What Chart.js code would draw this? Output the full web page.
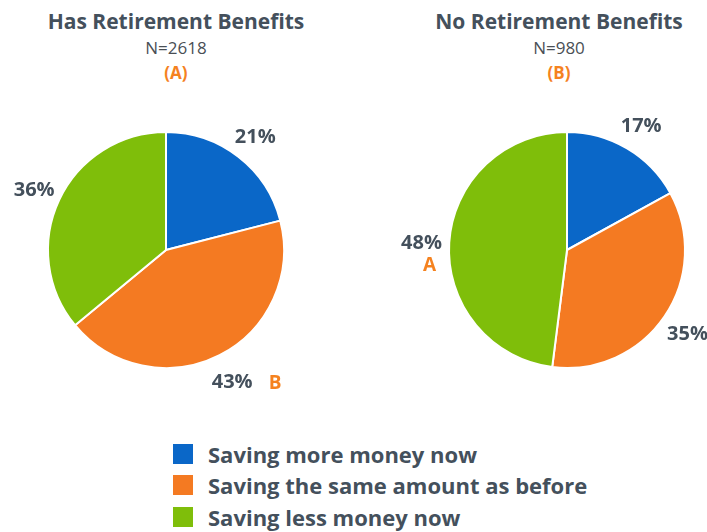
<!DOCTYPE html>
<html lang="en">
<head>
    <meta charset="UTF-8">
    <title>Retirement Benefits and Saving</title>
    <script src="https://cdnjs.cloudflare.com/ajax/libs/Chart.js/4.4.1/chart.umd.min.js"></script>
    <style>
        body { margin: 0; background: #fff; font-family: "Open Sans", sans-serif; color: #44505c; }
        #page { position: relative; width: 707px; height: 532px; overflow: hidden; }
        .head { position: absolute; top: 8px; width: 300px; text-align: center; }
        .head .t { font-weight: bold; font-size: 21px; line-height: 26px; }
        .head .n { font-size: 17px; line-height: 28px; color: #4a4f55; }
        .head .g { font-weight: bold; font-size: 17px; line-height: 22px; color: #f5821f; }
        .box { position: absolute; top: 71px; width: 353px; height: 358px; }
        #legend { position: absolute; left: 173px; top: 438px; }
        #legend div { display: flex; align-items: center; height: 31.5px; font-weight: bold; font-size: 22px; }
        #legend span.sw { display: inline-block; width: 20px; height: 20px; margin-right: 15px; }
    </style>
</head>
<body>
<div id="page">
    <div class="head" style="left:26px">
        <div class="t">Has Retirement Benefits</div>
        <div class="n">N=2618</div>
        <div class="g">(A)</div>
    </div>
    <div class="head" style="left:409px">
        <div class="t">No Retirement Benefits</div>
        <div class="n">N=980</div>
        <div class="g">(B)</div>
    </div>
    <div class="box" style="left:0"><canvas id="pieA"></canvas></div>
    <div class="box" style="left:354px"><canvas id="pieB"></canvas></div>
    <div id="legend"></div>
</div>

<script>
    const categories = ['Saving more money now', 'Saving the same amount as before', 'Saving less money now'];
    const colors = ['#0a67c8', '#f47a22', '#7fbe0a'];
    const hasBenefits = [21, 43, 36];
    const noBenefits = [17, 35, 48];
    // significance letters shown next to a slice label
    const hasBenefitsSig = ['', 'B', ''];
    const noBenefitsSig = ['', '', 'A'];

    const labelPlugin = {
        id: 'sliceLabels',
        afterDatasetsDraw(chart) {
            const ctx = chart.ctx;
            const meta = chart.getDatasetMeta(0);
            const sig = chart.options.plugins.sliceLabels.sig;
            const vals = chart.data.datasets[0].data;
            meta.data.forEach((arc, i) => {
                const mid = (arc.startAngle + arc.endAngle) / 2;
                const r = arc.outerRadius * 1.235;
                const x = arc.x + Math.cos(mid) * r;
                const y = arc.y + Math.sin(mid) * r + 2;
                ctx.save();
                ctx.font = 'bold 20px "Open Sans", sans-serif';
                ctx.fillStyle = '#44505c';
                ctx.textAlign = 'center';
                ctx.textBaseline = 'middle';
                ctx.fillText(vals[i] + '%', x, y);
                if (sig[i]) {
                    ctx.fillStyle = '#f5821f';
                    ctx.font = 'bold 19px "Open Sans", sans-serif';
                    if (Math.cos(mid) < -0.8) {
                        ctx.fillText(sig[i], x + 8, y + 23);
                    } else {
                        ctx.fillText(sig[i], x + 43, y + 2);
                    }
                }
                ctx.restore();
            });
        }
    };

    function makePie(id, values, sig, padding) {
        new Chart(document.getElementById(id), {
            type: 'pie',
            data: {
                labels: categories,
                datasets: [{
                    data: values,
                    backgroundColor: colors,
                    borderColor: '#ffffff',
                    borderWidth: 2
                }]
            },
            options: {
                responsive: true,
                maintainAspectRatio: false,
                animation: false,
                events: [],
                layout: { padding: padding },
                plugins: {
                    legend: { display: false },
                    tooltip: { enabled: false },
                    sliceLabels: { sig: sig }
                }
            },
            plugins: [labelPlugin]
        });
    }

    makePie('pieA', hasBenefits, hasBenefitsSig, { left: 47, right: 68, top: 60, bottom: 60 });
    makePie('pieB', noBenefits, noBenefitsSig, { left: 94, right: 21, top: 60, bottom: 60 });

    const legend = document.getElementById('legend');
    categories.forEach((c, i) => {
        const row = document.createElement('div');
        row.innerHTML = '<span class="sw" style="background:' + colors[i] + '"></span>' + c;
        legend.appendChild(row);
    });
</script>
</body>
</html>
